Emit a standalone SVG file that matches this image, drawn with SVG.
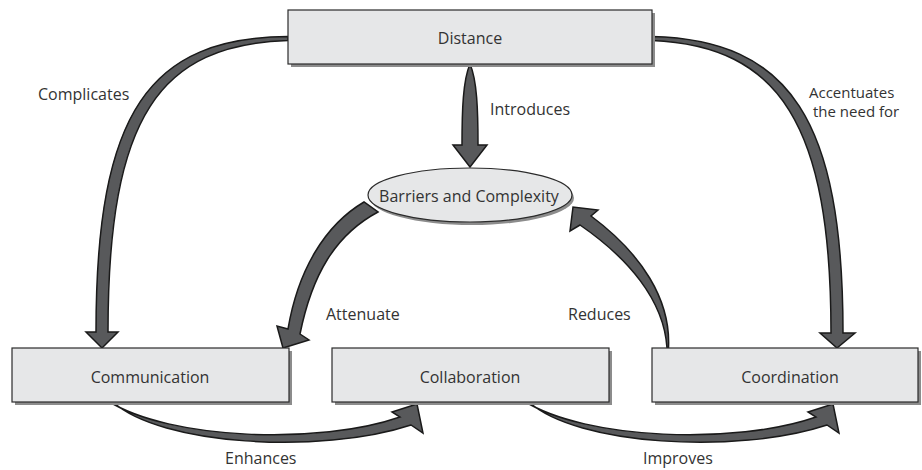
<svg xmlns="http://www.w3.org/2000/svg" width="922" height="470" viewBox="0 0 922 470">
<style>
.box{fill:#e6e7e8;stroke:#2b2b2b;stroke-width:1.2}
.shadow{fill:#8c8c8c}
.arrow{fill:#58595b;stroke:#1a1a1a;stroke-width:1.5;stroke-linejoin:miter}
text{font-family:"Open Sans","Liberation Sans",sans-serif;font-size:16px;fill:#333}
.c{text-anchor:middle}
.s{font-size:15px}
</style>
<defs>
<path id="lowArrow" class="arrow" d="M108,401 C170,440 320,445 400,417 L392,412 L417,404 L423,433 L411,425 C320,455 160,445 113,402 Z"/>
</defs>
<rect width="922" height="470" fill="#fff"/>
<g id="connectors">
<path id="complicates" class="arrow" d="M288,36.5 C150,38 96,110 96,332 L86,332 L102,348 L118,332 L108,332 C108,115 160,45 288,40.5 Z"/>
<path id="accentuates" class="arrow" d="M652,36.5 C790,40 843,120 843,333 L855,333 L837,348 L820,333 L831,333 C831,125 780,46 652,40.5 Z"/>
<path id="introduces" class="arrow" d="M470,64 C463,80 462,110 462,145 L453,145 L470,167 L487,145 L478,145 C478,110 477,80 470,64 Z"/>
<path id="attenuate" class="arrow" d="M364,202 C325,225 298,270 288,329 L277,326 L283,348 L309,340 L300,334 C312,275 335,235 378,212 Z"/>
<path id="reduces" class="arrow" d="M667,348 C664,300 628,258 580,225 L570,231 L573,207 L598,210 L591,216 C642,254 671,300 668.5,348 Z"/>
<use id="enhances" href="#lowArrow"/>
<use id="improves" href="#lowArrow" transform="translate(416,0)"/>
</g>
<g id="labels">
<text x="38" y="100">Complicates</text>
<text x="490" y="115">Introduces</text>
<text class="s" x="809" y="98">Accentuates</text>
<text class="s" x="813" y="117">the need for</text>
<text x="326" y="320">Attenuate</text>
<text x="568" y="320">Reduces</text>
<text x="225" y="464">Enhances</text>
<text x="643" y="464">Improves</text>
</g>
<g id="distance">
<rect class="shadow" x="291" y="13" width="364" height="54"/>
<rect class="box" x="288" y="10" width="364" height="54"/>
<text class="c" x="470" y="44">Distance</text>
</g>
<g id="barriers">
<ellipse class="shadow" cx="472" cy="198" rx="102" ry="27"/>
<ellipse class="box" cx="470" cy="195" rx="102" ry="27"/>
<text class="c" x="469" y="202">Barriers and Complexity</text>
</g>
<g id="communication">
<rect class="shadow" x="15" y="351" width="277" height="54"/>
<rect class="box" x="12" y="348" width="277" height="54"/>
<text class="c" x="150" y="383">Communication</text>
</g>
<g id="collaboration">
<rect class="shadow" x="335" y="351" width="277" height="54"/>
<rect class="box" x="332" y="348" width="277" height="54"/>
<text class="c" x="470" y="383">Collaboration</text>
</g>
<g id="coordination">
<rect class="shadow" x="655" y="351" width="266" height="54"/>
<rect class="box" x="652" y="348" width="266" height="54"/>
<text class="c" x="790" y="383">Coordination</text>
</g>
</svg>
